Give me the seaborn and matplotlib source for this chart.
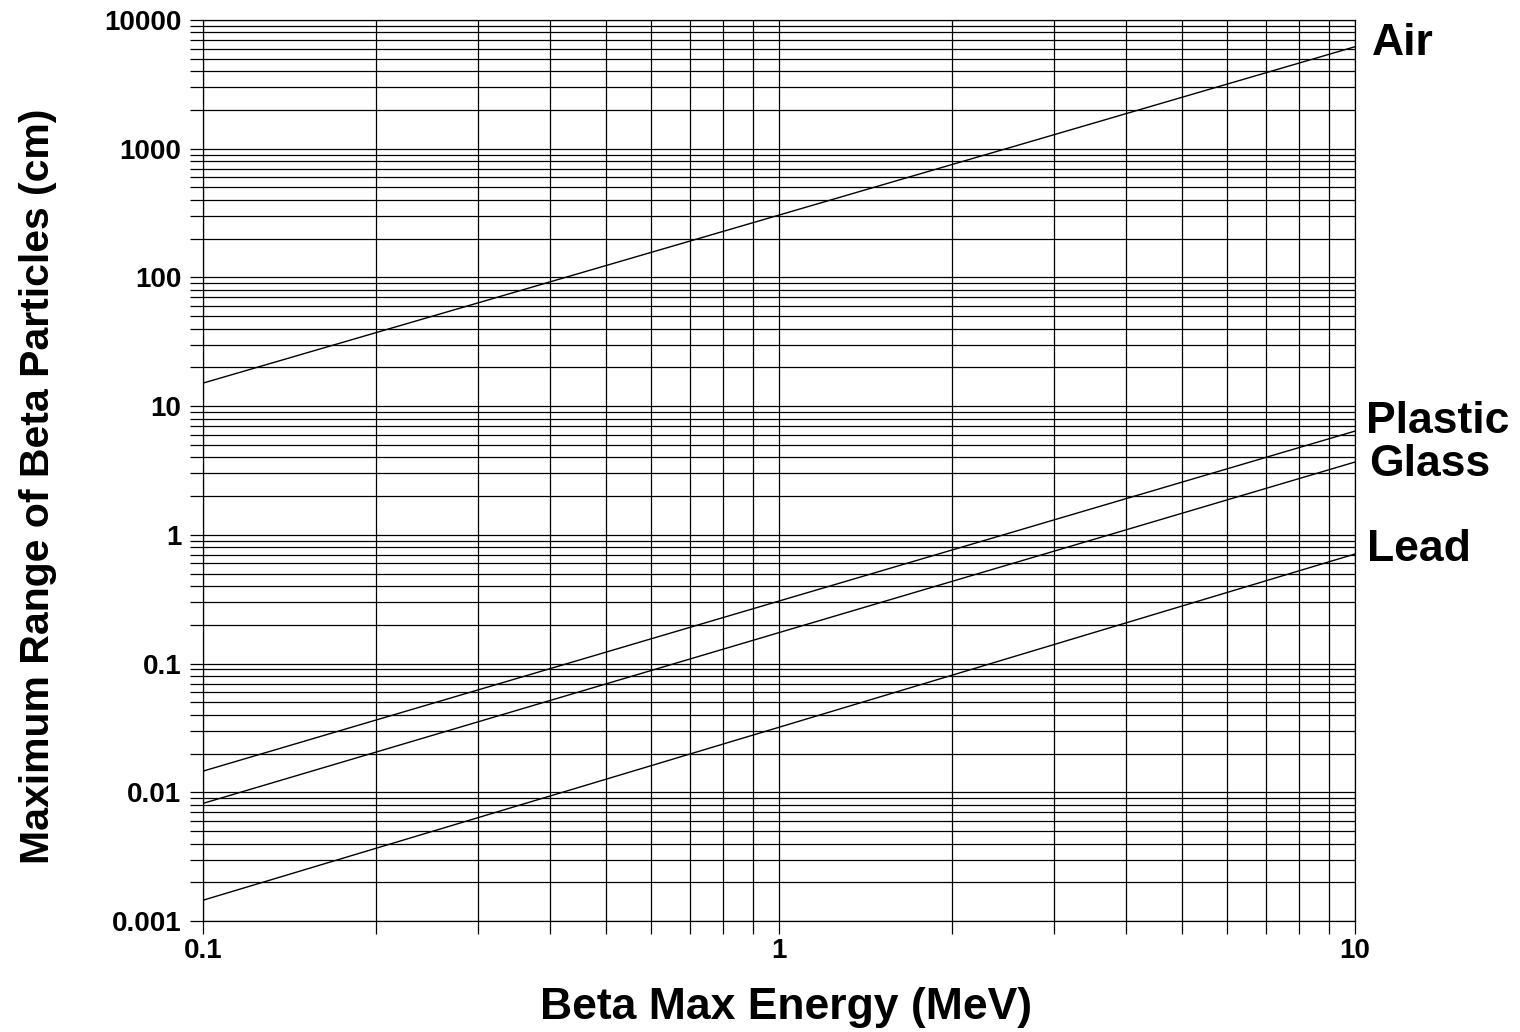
import numpy as np
import pandas as pd
import seaborn as sb
import matplotlib
matplotlib.use("Agg")
import matplotlib.pyplot as plt
from matplotlib.ticker import LogLocator, NullFormatter, FixedLocator, FixedFormatter

energy = [0.1, 1.0, 10.0]
# maximum range (cm) for each material at those energies
air_range = [15.1, 305.0, 6200.0]
plastic_range = [0.0146, 0.306, 6.4]
glass_range = [0.0082, 0.174, 3.68]
lead_range = [0.00145, 0.032, 0.71]
materials = ["Air", "Plastic", "Glass", "Lead"]

x_ticks = [0.1, 1, 10]
x_labels = ["0.1", "1", "10"]
y_ticks = [0.001, 0.01, 0.1, 1, 10, 100, 1000, 10000]
y_labels = ["0.001", "0.01", "0.1", "1", "10", "100", "1000", "10000"]

# label offsets from the line ends, in points
label_offset = {"Air": (12, 2), "Plastic": (8, 7), "Glass": (10, -2), "Lead": (9, 3)}

df = pd.DataFrame({
    "energy": energy * 4,
    "range": air_range + plastic_range + glass_range + lead_range,
    "material": [m for m in materials for _ in energy],
})

sb.set_style("white")
plt.rcParams["font.family"] = ["Liberation Sans", "DejaVu Sans"]
plt.rcParams["font.weight"] = "bold"
plt.rcParams["text.color"] = "black"
plt.rcParams["axes.labelcolor"] = "black"
plt.rcParams["xtick.color"] = "black"
plt.rcParams["ytick.color"] = "black"

fig = plt.figure(figsize=(15.2, 10.32), dpi=100)
ax = fig.add_axes([203 / 1520, 1 - 921 / 1032, (1355 - 203) / 1520, (921 - 20) / 1032])

sb.lineplot(data=df, x="energy", y="range", hue="material",
            palette={m: "black" for m in materials}, legend=False,
            linewidth=1.0, ax=ax)

ax.set_xscale("log")
ax.set_yscale("log")
ax.set_xlim(0.1, 10)
ax.set_ylim(0.001, 10000)

ax.xaxis.set_major_locator(FixedLocator(x_ticks))
ax.xaxis.set_major_formatter(FixedFormatter(x_labels))
ax.yaxis.set_major_locator(FixedLocator(y_ticks))
ax.yaxis.set_major_formatter(FixedFormatter(y_labels))
ax.xaxis.set_minor_locator(LogLocator(base=10, subs=np.arange(2, 10), numticks=20))
ax.yaxis.set_minor_locator(LogLocator(base=10, subs=np.arange(2, 10), numticks=20))
ax.xaxis.set_minor_formatter(NullFormatter())
ax.yaxis.set_minor_formatter(NullFormatter())

ax.grid(True, which="both", color="black", linewidth=0.9)
ax.tick_params(which="both", direction="out", length=9.5, width=0.9, color="black",
               left=True, bottom=True, right=False, top=False)
ax.tick_params(axis="y", which="major", labelsize=20, pad=6, labelcolor="black")
ax.tick_params(axis="x", which="major", labelsize=20, pad=3, labelcolor="black")
for lab in ax.get_xticklabels() + ax.get_yticklabels():
    lab.set_fontweight("bold")
for s in ax.spines.values():
    s.set_color("black")
    s.set_linewidth(0.9)

ax.set_xlabel("Beta Max Energy (MeV)", fontsize=32, fontweight="bold", color="black")
ax.set_ylabel("Maximum Range of Beta Particles (cm)", fontsize=29.5, fontweight="bold",
              color="black")
ax.xaxis.set_label_coords(0.506, -0.096)
ax.yaxis.set_label_coords(-0.143, 0.482)
ax.xaxis.label.set_va("center")
ax.yaxis.label.set_va("center")

ends = {"Air": air_range[-1], "Plastic": plastic_range[-1],
        "Glass": glass_range[-1], "Lead": lead_range[-1]}
for m in materials:
    ax.annotate(m, xy=(energy[-1], ends[m]), xytext=label_offset[m],
                textcoords="offset points", fontsize=32, fontweight="bold",
                color="black", va="center", ha="left", annotation_clip=False)

fig.savefig("out.png", dpi=100)
